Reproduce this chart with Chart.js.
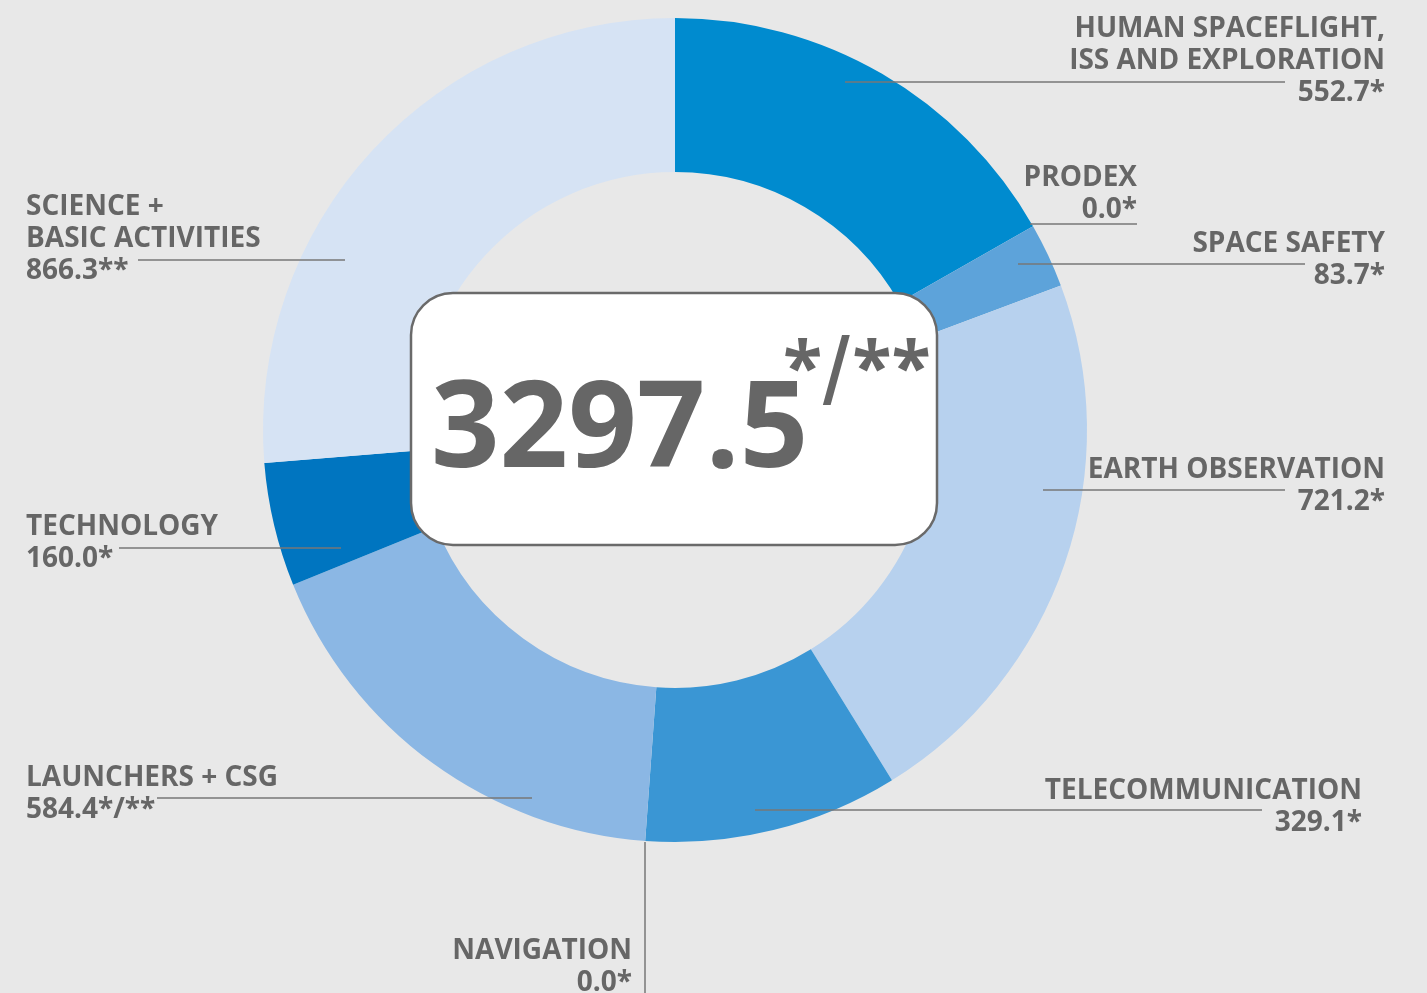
<!DOCTYPE html>
<html>
<head>
<meta charset="utf-8">
<script src="https://cdn.jsdelivr.net/npm/chart.js@4"></script>
<style>
html,body{margin:0;padding:0;background:#e8e8e8;overflow:hidden;}
#wrap{position:relative;width:1427px;height:993px;}
</style>
</head>
<body>
<div id="wrap"><canvas id="c" width="1427" height="993"></canvas></div>
<script>
const categories = ["HUMAN SPACEFLIGHT, ISS AND EXPLORATION","PRODEX","SPACE SAFETY","EARTH OBSERVATION","TELECOMMUNICATION","NAVIGATION","LAUNCHERS + CSG","TECHNOLOGY","SCIENCE + BASIC ACTIVITIES"];
const values = [552.7, 0.0, 83.7, 721.2, 329.1, 0.0, 584.4, 160.0, 866.3];
const valueLabels = ["552.7*","0.0*","83.7*","721.2*","329.1*","0.0*","584.4*/**","160.0*","866.3**"];
const colors = ["#008BCF","#0068B4","#5DA3DA","#B7D1EE","#3A96D4","#2F7FC8","#8BB7E4","#0075C0","#D6E3F4"];
const totalLabel = "3297.5";
const totalNote = ["*","/","**"];

// label layout: lines of text, alignment, anchor x, first baseline, leader line
const labelLayout = [
  {lines:["HUMAN SPACEFLIGHT,","ISS AND EXPLORATION"], align:"right", x:1385, y:37, line:[845,82,1285,82]},
  {lines:["PRODEX"], align:"right", x:1137, y:186, line:[1030,224,1137,224]},
  {lines:["SPACE SAFETY"], align:"right", x:1385, y:252, line:[1018,264,1305,264]},
  {lines:["EARTH OBSERVATION"], align:"right", x:1385, y:478, line:[1043,490,1285,490]},
  {lines:["TELECOMMUNICATION"], align:"right", x:1362, y:799, line:[755,810,1262,810]},
  {lines:["NAVIGATION"], align:"right", x:632, y:959, line:[645,842,645,993]},
  {lines:["LAUNCHERS + CSG"], align:"left", x:26, y:786, line:[157,798,532,798]},
  {lines:["TECHNOLOGY"], align:"left", x:26, y:535, line:[119,548,341,548]},
  {lines:["SCIENCE +","BASIC ACTIVITIES"], align:"left", x:26, y:215, line:[138,260,345,260]}
];

const FONT = '"Open Sans", "DejaVu Sans", sans-serif';
const TEXT = "#666666";

const overlay = {
  id:"overlay",
  afterDatasetsDraw(chart){
    const ctx = chart.ctx;
    ctx.save();
    // leader lines
    ctx.strokeStyle = "#777777";
    ctx.lineWidth = 1.5;
    labelLayout.forEach(l=>{
      ctx.beginPath();
      ctx.moveTo(l.line[0], l.line[1]);
      ctx.lineTo(l.line[2], l.line[3]);
      ctx.stroke();
    });
    // labels
    ctx.fillStyle = TEXT;
    ctx.font = "bold 28px " + FONT;
    ctx.textBaseline = "alphabetic";
    labelLayout.forEach((l,i)=>{
      ctx.textAlign = l.align;
      const all = l.lines.concat([valueLabels[i]]);
      all.forEach((t,k)=>{
        ctx.fillText(t, l.x, l.y + k*32);
      });
    });
    // center box
    const bx=411, by=293, bw=526, bh=252, r=42;
    ctx.beginPath();
    ctx.roundRect(bx,by,bw,bh,r);
    ctx.fillStyle="#ffffff";
    ctx.fill();
    ctx.lineWidth=2.5;
    ctx.strokeStyle="#6a6a6a";
    ctx.stroke();
    ctx.fillStyle = "#666666";
    ctx.textAlign="left";
    ctx.font = "bold 120px " + FONT;
    ctx.fillText(totalLabel, 431, 467);
    ctx.font = "bold 72px " + FONT;
    let x = 783;
    ctx.fillText(totalNote[0], x, 393);
    x += ctx.measureText(totalNote[0]).width;
    // tall slash
    ctx.save();
    ctx.translate(x, 405);
    ctx.scale(1, 1.35);
    ctx.font = "600 72px " + FONT;
    ctx.fillText(totalNote[1], 0, 0);
    const sw = ctx.measureText(totalNote[1]).width;
    ctx.restore();
    x += sw + 2;
    ctx.font = "bold 72px " + FONT;
    ctx.fillText(totalNote[2], x, 393);
    ctx.restore();
  }
};

new Chart(document.getElementById("c"), {
  type:"doughnut",
  data:{
    labels: categories,
    datasets:[{
      data: values,
      backgroundColor: colors,
      borderWidth: 0,
      hoverOffset: 0
    }]
  },
  options:{
    responsive:false,
    animation:false,
    cutout:"62.6%",
    layout:{padding:{left:263,right:340,top:18,bottom:151}},
    plugins:{legend:{display:false}, tooltip:{enabled:false}},
    events:[]
  },
  plugins:[overlay]
});
</script>
</body>
</html>
